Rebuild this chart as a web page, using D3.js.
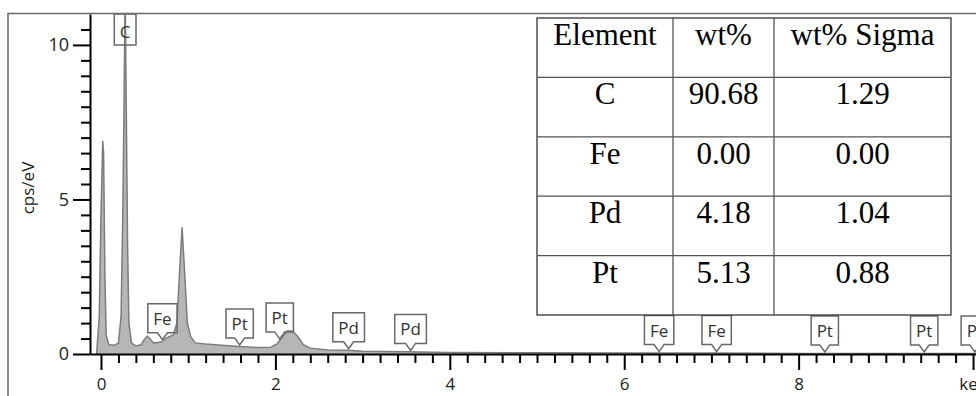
<!DOCTYPE html>
<html>
<head>
<meta charset="utf-8">
<script src="https://cdn.jsdelivr.net/npm/d3@7"></script>
<style>
    body { margin: 0; background: #fff; }
    .spectrumChart { width: 976px; height: 396px; overflow: hidden; }
</style>
</head>
<body>
<div class="spectrumChart"></div>
<script>
// spectrum (keV / cps per eV)
const energy = [-0.05, -0.02, 0.00, 0.02, 0.03, 0.045, 0.06, 0.09, 0.15, 0.20, 0.23, 0.25, 0.265, 0.277, 0.29, 0.305, 0.32, 0.35,
    0.40, 0.46, 0.50, 0.53, 0.56, 0.60, 0.65, 0.70, 0.74, 0.78, 0.83, 0.87, 0.90, 0.93, 0.96, 0.99, 1.03, 1.08, 1.20, 1.50,
    1.80, 1.95, 2.02, 2.08, 2.14, 2.20, 2.26, 2.32, 2.40, 2.60, 2.84, 3.00, 3.50, 4.00, 5.00, 6.00, 7.00, 8.00, 9.00, 10.2];
const counts = [0, 1.2, 4.5, 6.9, 6.5, 2.5, 0.6, 0.3, 0.28, 0.35, 1.2, 4.5, 8.2, 11.8, 8.0, 3.5, 1.0, 0.35,
    0.26, 0.3, 0.48, 0.58, 0.5, 0.36, 0.37, 0.4, 0.5, 0.56, 0.62, 1.0, 2.6, 4.1, 2.6, 1.0, 0.55, 0.36, 0.32, 0.26,
    0.21, 0.22, 0.33, 0.55, 0.75, 0.74, 0.55, 0.3, 0.19, 0.13, 0.12, 0.09, 0.07, 0.05, 0.04, 0.03, 0.03, 0.02, 0.02, 0.02];

// peak markers
const peakNames = ['Fe', 'Pt', 'Pt', 'Pd', 'Pd', 'Fe', 'Fe', 'Pt', 'Pt', 'Pt'];
const peakEnergies = [0.705, 1.59, 2.05, 2.84, 3.55, 6.40, 7.06, 8.30, 9.44, 10.02];
const topPeakName = 'C';
const topPeakEnergy = 0.277;

// quantification table
const tableHeader = ['Element', 'wt%', 'wt% Sigma'];
const tableElements = ['C', 'Fe', 'Pd', 'Pt'];
const tableWt = ['90.68', '0.00', '4.18', '5.13'];
const tableSigma = ['1.29', '0.00', '1.04', '0.88'];

// axis ticks
const xMajorTicks = [0, 2, 4, 6, 8, 10];
const yMajorTicks = [0, 5, 10];

function spectrumChart() {
    const width = 976;
    const height = 396;
    const font = '"Open Sans", sans-serif';

    const svg = d3.select('.spectrumChart')
        .append('svg')
        .attr('width', width)
        .attr('height', height)
        .attr('style', 'font-family: ' + font);

    svg.append('rect').attr('width', width).attr('height', height).attr('fill', '#fff');

    // outer frame (only left and top are in view)
    svg.append('rect')
        .attr('x', 8).attr('y', 13.5)
        .attr('width', 1200).attr('height', 600)
        .attr('fill', 'none').attr('stroke', '#6a6a6a').attr('stroke-width', 1.5);

    const scaleX = d3.scaleLinear().domain([-0.126, 10.034]).range([90, 976]);
    const scaleY = d3.scaleLinear().domain([0, 11]).range([354, 14]);

    svg.append('clipPath').attr('id', 'plotClip')
        .append('rect')
        .attr('x', 90).attr('y', 14)
        .attr('width', 886).attr('height', 340);

    const points = energy.map((e, i) => [e, counts[i]]);

    const area = d3.area()
        .x(d => scaleX(d[0]))
        .y0(scaleY(0))
        .y1(d => scaleY(d[1]));
    const line = d3.line()
        .x(d => scaleX(d[0]))
        .y(d => scaleY(d[1]));

    const plot = svg.append('g').attr('clip-path', 'url(#plotClip)');
    plot.append('path')
        .datum(points)
        .attr('d', area)
        .attr('fill', '#b6b6b6');
    plot.append('path')
        .datum(points)
        .attr('d', line)
        .attr('fill', 'none')
        .attr('stroke', '#7c7c7c')
        .attr('stroke-width', 1.5);

    // value of the spectrum at some energy
    function countAt(e) {
        const i = d3.bisectRight(energy, e);
        if (i <= 0) return counts[0];
        if (i >= energy.length) return counts[counts.length - 1];
        const t = (e - energy[i - 1]) / (energy[i] - energy[i - 1]);
        return counts[i - 1] + t * (counts[i] - counts[i - 1]);
    }

    // minor ticks
    svg.append('g')
        .attr('transform', 'translate(0, 354)')
        .call(d3.axisBottom(scaleX)
            .tickValues(d3.range(1, 50).filter(k => k % 10 !== 0).map(k => k * 0.2))
            .tickSize(9).tickSizeOuter(0).tickFormat(''))
        .call(g => g.select('.domain').remove())
        .call(g => g.selectAll('line').attr('stroke', '#000').attr('stroke-width', 2));

    svg.append('g')
        .attr('transform', 'translate(90, 0)')
        .call(d3.axisLeft(scaleY)
            .tickValues(d3.range(1, 22).filter(k => k % 10 !== 0).map(k => k * 0.5))
            .tickSize(9).tickSizeOuter(0).tickFormat(''))
        .call(g => g.select('.domain').remove())
        .call(g => g.selectAll('line').attr('stroke', '#000').attr('stroke-width', 2));

    // major ticks + labels
    svg.append('g')
        .attr('transform', 'translate(0, 354)')
        .call(d3.axisBottom(scaleX)
            .tickValues(xMajorTicks)
            .tickSize(16).tickSizeOuter(0).tickPadding(8)
            .tickFormat(d => d === 10 ? 'keV' : d))
        .call(g => g.select('.domain').attr('stroke', '#000').attr('stroke-width', 2))
        .call(g => g.selectAll('line').attr('stroke', '#000').attr('stroke-width', 2))
        .call(g => g.selectAll('text').attr('fill', '#222').attr('font-size', 17).attr('font-family', font));

    svg.append('g')
        .attr('transform', 'translate(90, 0)')
        .call(d3.axisLeft(scaleY)
            .tickValues(yMajorTicks)
            .tickSize(17).tickSizeOuter(0).tickPadding(4))
        .call(g => g.select('.domain').attr('stroke', '#000').attr('stroke-width', 2))
        .call(g => g.selectAll('line').attr('stroke', '#000').attr('stroke-width', 2))
        .call(g => g.selectAll('text').attr('fill', '#222').attr('font-size', 18).attr('font-family', font));

    svg.append('text')
        .attr('transform', 'translate(34, 188) rotate(-90)')
        .attr('text-anchor', 'middle')
        .attr('font-size', 17)
        .attr('fill', '#222')
        .text('cps/eV');

    // peak marker boxes
    const markers = svg.append('g');
    peakNames.forEach((name, i) => {
        const cx = scaleX(peakEnergies[i]);
        const tip = scaleY(countAt(peakEnergies[i])) - 1.5;
        const bottom = tip - 7;
        const top = bottom - 29;
        const g = markers.append('g');
        const label = g.append('text')
            .attr('x', cx).attr('y', top + 21)
            .attr('text-anchor', 'middle')
            .attr('font-size', 17)
            .attr('fill', '#333')
            .text(name);
        const half = label.node().getComputedTextLength() / 2 + 5.5;
        const shape = d3.path();
        shape.moveTo(cx - half, top);
        shape.lineTo(cx + half, top);
        shape.lineTo(cx + half, bottom);
        shape.lineTo(cx + 5, bottom);
        shape.lineTo(cx, tip);
        shape.lineTo(cx - 5, bottom);
        shape.lineTo(cx - half, bottom);
        shape.closePath();
        g.insert('path', 'text')
            .attr('d', shape.toString())
            .attr('fill', 'none')
            .attr('stroke', '#686868')
            .attr('stroke-width', 1.5);
    });

    // C marker sits at the top of the frame
    const cx = scaleX(topPeakEnergy);
    const cMarker = svg.append('g');
    const cLabel = cMarker.append('text')
        .attr('x', cx).attr('y', 38)
        .attr('text-anchor', 'middle')
        .attr('font-size', 17)
        .attr('fill', '#333')
        .text(topPeakName);
    const cHalf = cLabel.node().getComputedTextLength() / 2 + 5.5;
    cMarker.insert('rect', 'text')
        .attr('x', cx - cHalf).attr('y', 14)
        .attr('width', cHalf * 2).attr('height', 31)
        .attr('fill', 'none')
        .attr('stroke', '#686868')
        .attr('stroke-width', 1.5);

    // table
    const colEdges = [537, 673, 774, 951];
    const rowTop = 18;
    const rowHeight = 59.4;
    const rows = [tableHeader].concat(tableElements.map((el, i) => [el, tableWt[i], tableSigma[i]]));
    const table = svg.append('g');
    table.append('rect')
        .attr('x', colEdges[0]).attr('y', rowTop)
        .attr('width', colEdges[3] - colEdges[0]).attr('height', rowHeight * rows.length)
        .attr('fill', '#fff').attr('stroke', '#333').attr('stroke-width', 1.3);
    d3.range(1, rows.length).forEach(r => {
        table.append('line')
            .attr('x1', colEdges[0]).attr('x2', colEdges[3])
            .attr('y1', rowTop + r * rowHeight).attr('y2', rowTop + r * rowHeight)
            .attr('stroke', '#555').attr('stroke-width', 1.3);
    });
    [1, 2].forEach(c => {
        table.append('line')
            .attr('x1', colEdges[c]).attr('x2', colEdges[c])
            .attr('y1', rowTop).attr('y2', rowTop + rowHeight * rows.length)
            .attr('stroke', '#555').attr('stroke-width', 1.3);
    });
    rows.forEach((row, r) => {
        row.forEach((cell, c) => {
            table.append('text')
                .attr('x', (colEdges[c] + colEdges[c + 1]) / 2)
                .attr('y', rowTop + r * rowHeight + 27)
                .attr('text-anchor', 'middle')
                .attr('font-family', '"Liberation Serif", "Times New Roman", serif')
                .attr('font-size', 31)
                .attr('fill', '#000')
                .text(cell);
        });
    });
}

spectrumChart();
</script>
</body>
</html>
